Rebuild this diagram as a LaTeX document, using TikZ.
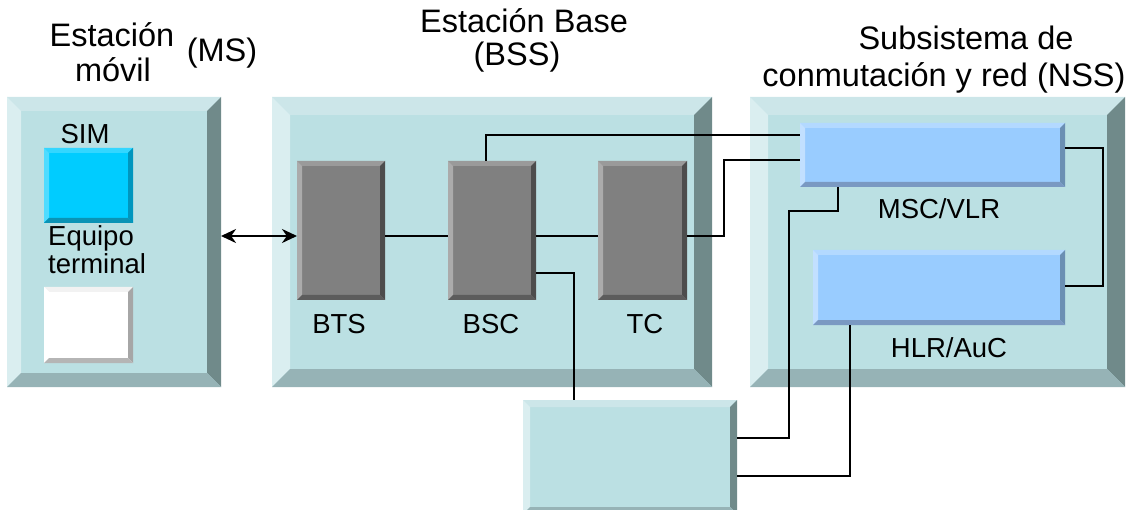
\documentclass[tikz,border=0pt]{standalone}
\usepackage{fontspec}
\setmainfont{Liberation Sans}
\usetikzlibrary{arrows.meta}
\definecolor{tealface}{RGB}{187,224,227}
\definecolor{tealtop}{RGB}{204,230,233}
\definecolor{tealleft}{RGB}{218,238,240}
\definecolor{tealright}{RGB}{112,138,138}
\definecolor{tealbot}{RGB}{150,179,182}
\definecolor{grayface}{RGB}{128,128,128}
\definecolor{graytop}{RGB}{154,154,154}
\definecolor{grayleft}{RGB}{171,171,171}
\definecolor{grayright}{RGB}{77,77,77}
\definecolor{graybot}{RGB}{92,92,92}
\definecolor{simface}{RGB}{0,204,255}
\definecolor{simtop}{RGB}{51,214,255}
\definecolor{simleft}{RGB}{80,220,255}
\definecolor{simright}{RGB}{0,150,190}
\definecolor{simbot}{RGB}{10,147,181}
\definecolor{whface}{RGB}{255,255,255}
\definecolor{whtop}{RGB}{242,242,242}
\definecolor{whleft}{RGB}{255,255,255}
\definecolor{whright}{RGB}{166,166,166}
\definecolor{whbot}{RGB}{181,181,181}
\definecolor{blface}{RGB}{153,204,255}
\definecolor{bltop}{RGB}{179,217,255}
\definecolor{blleft}{RGB}{194,224,255}
\definecolor{blright}{RGB}{107,143,179}
\definecolor{blbot}{RGB}{122,153,194}
\newcommand\bevbox[7]{%
 \fill[#7face] (#2,#3) rectangle (#4,#5);
 \fill[#7top] (#2,#3) -- (#4,#3) -- ({#4-#6},{#3+#6}) -- ({#2+#6},{#3+#6}) -- cycle;
 \fill[#7left] (#2,#3) -- ({#2+#6},{#3+#6}) -- ({#2+#6},{#5-#6}) -- (#2,#5) -- cycle;
 \fill[#7right] (#4,#3) -- (#4,#5) -- ({#4-#6},{#5-#6}) -- ({#4-#6},{#3+#6}) -- cycle;
 \fill[#7bot] (#2,#5) -- (#4,#5) -- ({#4-#6},{#5-#6}) -- ({#2+#6},{#5-#6}) -- cycle;
 \node[inner sep=0pt, outer sep=0pt, minimum width={(#4-#2)*1pt}, minimum height={(#5-#3)*1pt}, anchor=north west] (#1) at (#2,#3) {};
}
\begin{document}
\begin{tikzpicture}[x=1pt,y=-1pt,
  lab/.style={font=\fontsize{27.5}{31}\selectfont, inner sep=0pt, anchor=base},
  ttl/.style={font=\fontsize{32.5}{36}\selectfont, inner sep=0pt, anchor=base},
  wire/.style={line width=1.8pt, black},
  every node/.style={text=black}]
\useasboundingbox (0,0) rectangle (1126,510);
\clip (0,0) rectangle (1126,510);
% big boxes
\bevbox{ms}{7}{97}{221}{387}{14}{teal}
\bevbox{bss}{272}{97}{712}{387}{18}{teal}
\bevbox{nss}{750}{97}{1125}{387}{18}{teal}
\bevbox{bb}{523}{400}{737}{514}{7}{teal}
% MS content
\bevbox{sim}{44}{148}{133}{223}{5}{sim}
\bevbox{te}{44}{287}{133}{363}{5}{wh}
\node[lab] (simlab) at (85,144) {SIM};
\node[lab, anchor=base west] (eq1) at (48,246) {Equipo};
\node[lab, anchor=base west] (eq2) at (48,274) {terminal};
% BSS content
\bevbox{bts}{297}{161}{385}{300}{5}{gray}
\bevbox{bsc}{448}{161}{536}{300}{5}{gray}
\bevbox{tc}{598}{161}{687}{300}{5}{gray}
\node[lab] (btslab) at (339,333) {BTS};
\node[lab] (bsclab) at (491,333) {BSC};
\node[lab] (tclab) at (645,333) {TC};
% NSS content
\bevbox{msc}{800}{123}{1065}{187}{5}{bl}
\bevbox{hlr}{813}{250}{1065}{325}{5}{bl}
\node[lab] (msclab) at (939,219) {MSC/VLR};
\node[lab] (hlrlab) at (949,357) {HLR/AuC};
% titles
\node[ttl] (t1) at (112,47) {Estación};
\node[ttl] (t2) at (113,82) {móvil};
\node[ttl] (t3) at (222,62) {(MS)};
\node[ttl] (t4) at (524,33) {Estación Base};
\node[ttl] (t5) at (517,66) {(BSS)};
\node[ttl] (t6) at (966,50) {Subsistema de};
\node[ttl] (t7) at (944,87) {conmutación y red (NSS)};
% helper coordinates
\coordinate (row) at (0,236);
\coordinate (r135) at (0,135);
\coordinate (r160) at (0,160);
\coordinate (r273) at (0,273);
\coordinate (r148) at (0,148);
\coordinate (r286) at (0,286);
\coordinate (r438) at (0,438);
\coordinate (r476) at (0,476);
\coordinate (c486) at (486,0);
\coordinate (c574) at (574,0);
\coordinate (c838) at (838,0);
\coordinate (c850) at (850,0);
\coordinate (k1) at (724,160);
\coordinate (k2) at (1103,148);
\coordinate (k3) at (789,211);
% connectors
\draw[line width=2.4pt, {Stealth[length=15pt,width=14pt]}-{Stealth[length=15pt,width=14pt]}] (ms.east |- row) -- (bts.west |- row);
\draw[wire] (bts.east |- row) -- (bsc.west |- row);
\draw[wire] (bsc.east |- row) -- (tc.west |- row);
\draw[wire] (tc.east |- row) -| (k1) -- (msc.west |- r160);
\draw[wire] (bsc.north -| c486) |- (msc.west |- r135);
\draw[wire] (bsc.east |- r273) -| (bb.north -| c574);
\draw[wire] (msc.east |- r148) -- (k2) |- (hlr.east |- r286);
\draw[wire] (msc.south -| c838) |- (k3) |- (bb.east |- r438);
\draw[wire] (hlr.south -| c850) |- (bb.east |- r476);
\end{tikzpicture}
\end{document}
